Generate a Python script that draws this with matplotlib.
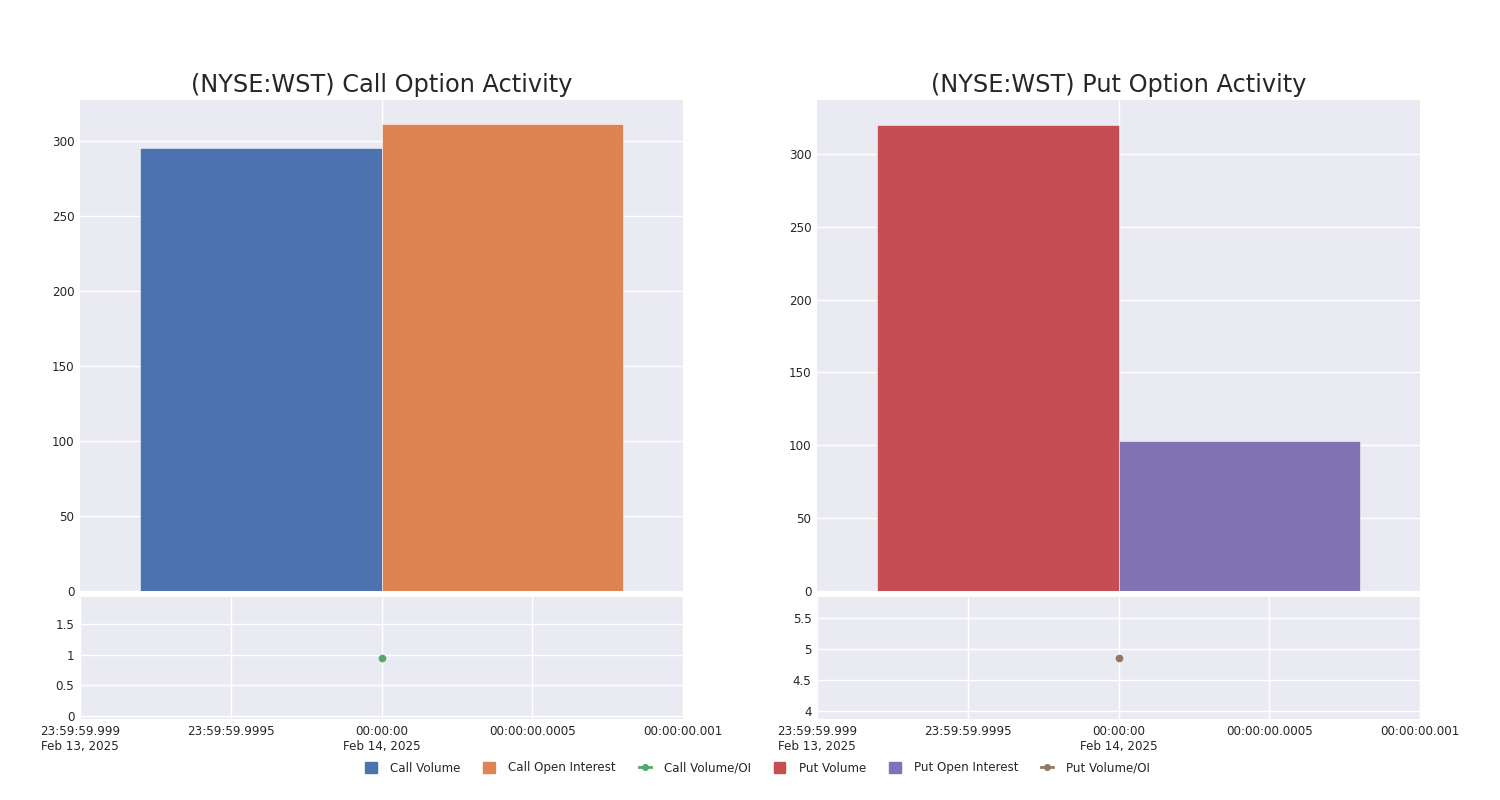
import matplotlib
matplotlib.use("Agg")
import matplotlib.pyplot as plt
from matplotlib.lines import Line2D
from matplotlib.patches import Patch

# --- dados ---
TICKER = "NYSE:WST"
call_volume = [295]
call_oi = [311]
call_vol_oi = [0.95]
put_volume = [320]
put_oi = [103]
put_vol_oi = [4.85]

# eixo x em milissegundos relativos a 00:00:00 de Feb 14, 2025
x_ticks = [-1, -0.5, 0, 0.5, 1]
x_labels = ["23:59:59.999\nFeb 13, 2025", "23:59:59.9995", "00:00:00\nFeb 14, 2025",
            "00:00:00.0005", "00:00:00.001"]

COLORS = {
    "call_vol": "#4C72B0", "call_oi": "#DD8452", "call_ratio": "#55A868",
    "put_vol": "#C44E52", "put_oi": "#8172B3", "put_ratio": "#937860",
}
BG = "#EAEAF2"
TXT = "#262626"

plt.rcParams["font.family"] = ["DejaVu Sans"]

fig = plt.figure(figsize=(15, 8), dpi=100)
W, H = 1500, 800


def add_ax(x0, y0, x1, y1):
    return fig.add_axes([x0 / W, 1 - y1 / H, (x1 - x0) / W, (y1 - y0) / H])


def style(ax):
    ax.set_facecolor(BG)
    for s in ax.spines.values():
        s.set_visible(False)
    ax.grid(True, color="white", linewidth=1.0)
    ax.set_axisbelow(True)
    ax.tick_params(length=0, labelsize=8.6, colors=TXT, pad=4)


def panel(x0, title, vol, oi, ratio, c_vol, c_oi, c_ratio, ylim_top, ylim_bot,
          yt_top, yt_bot, yt_bot_lbl):
    top = add_ax(x0, 100, x0 + 603, 591)
    bot = add_ax(x0, 597, x0 + 603, 719)
    for ax in (top, bot):
        style(ax)
        ax.set_xlim(-1, 1)

    w = 0.8
    top.bar([-w], vol, width=w, align="edge", color=c_vol,
            edgecolor=(1, 1, 1, 0.6), linewidth=0.6)
    top.bar([0], oi, width=w, align="edge", color=c_oi,
            edgecolor=(1, 1, 1, 0.6), linewidth=0.6)
    top.set_xticks([0])
    top.set_xticklabels([])
    top.set_ylim(*ylim_top)
    top.set_yticks(yt_top)
    top.set_title(title, fontsize=17.3, color=TXT, pad=6)

    bot.plot([0], ratio, marker="o", markersize=4.5, color=c_ratio, linestyle="-")
    bot.set_ylim(*ylim_bot)
    bot.set_yticks(yt_bot)
    bot.set_yticklabels(yt_bot_lbl)
    bot.set_xticks(x_ticks)
    bot.set_xticklabels(x_labels)


panel(80, f"({TICKER}) Call Option Activity", call_volume, call_oi, call_vol_oi,
      COLORS["call_vol"], COLORS["call_oi"], COLORS["call_ratio"],
      (0, 327), (-0.05, 1.94), [0, 50, 100, 150, 200, 250, 300],
      [0, 0.5, 1, 1.5], ["0", "0.5", "1", "1.5"])
panel(817, f"({TICKER}) Put Option Activity", put_volume, put_oi, put_vol_oi,
      COLORS["put_vol"], COLORS["put_oi"], COLORS["put_ratio"],
      (0, 337), (3.87, 5.84), [0, 50, 100, 150, 200, 250, 300],
      [4, 4.5, 5, 5.5], ["4", "4.5", "5", "5.5"])

handles = [
    Patch(color=COLORS["call_vol"], label="Call Volume"),
    Patch(color=COLORS["call_oi"], label="Call Open Interest"),
    Line2D([], [], color=COLORS["call_ratio"], marker="o", markersize=4, lw=2, label="Call Volume/OI"),
    Patch(color=COLORS["put_vol"], label="Put Volume"),
    Patch(color=COLORS["put_oi"], label="Put Open Interest"),
    Line2D([], [], color=COLORS["put_ratio"], marker="o", markersize=4, lw=2, label="Put Volume/OI"),
]
fig.legend(handles=handles, loc="center", bbox_to_anchor=(0.505, 1 - 768 / H), ncol=6,
           frameon=False, fontsize=8.6, handlelength=1.0, handleheight=1.0,
           columnspacing=1.9, handletextpad=1.1, labelcolor=TXT)

fig.savefig("out.png", dpi=100, facecolor="white")
